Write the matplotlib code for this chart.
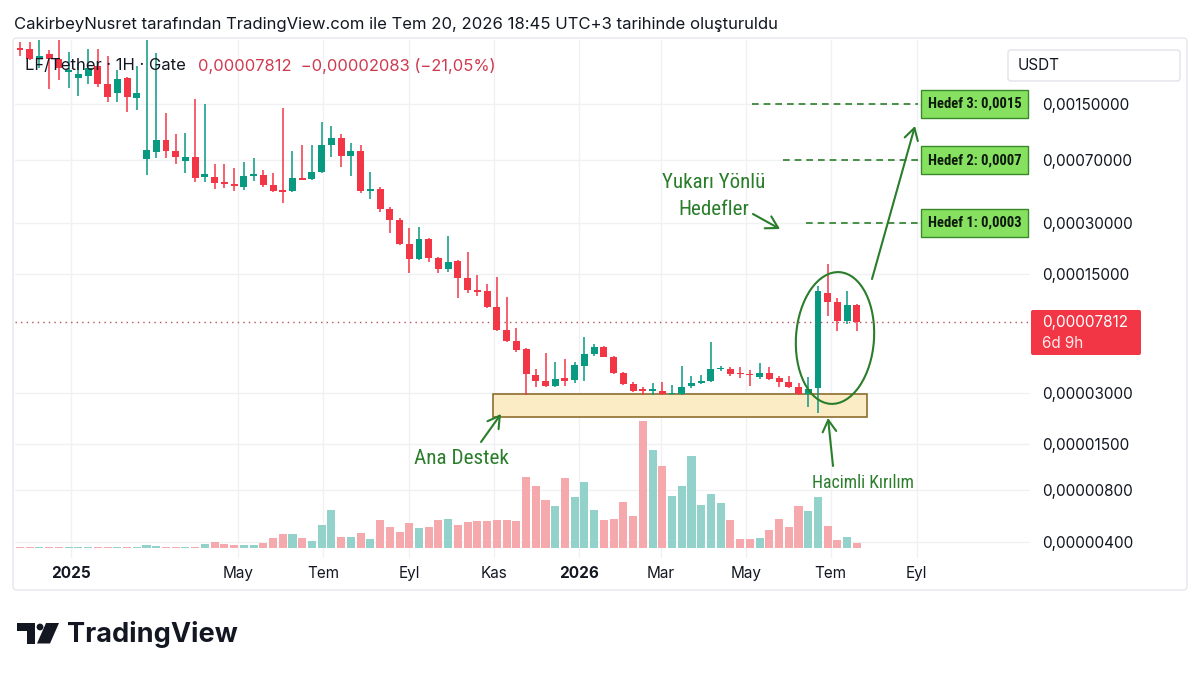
import numpy as np
import pandas as pd
import matplotlib
matplotlib.use("Agg")
import matplotlib.pyplot as plt
import matplotlib.dates as mdates
import matplotlib.transforms as mtransforms
from matplotlib.patches import Rectangle, Ellipse, FancyBboxPatch, Polygon, Circle, FancyArrowPatch
from matplotlib.ticker import NullLocator
from matplotlib import font_manager as fm

# ---------------- data (weekly candles, LF/USDT) ----------------
FIRST_WEEK = "2024-11-25"
opens = [3.19e-3, 3.15e-3, 2.75e-3, 2.95e-3, 2.75e-3, 2.31e-3, 2.13e-3, 2.19e-3, 2.50e-3, 1.96e-3,
         1.74e-3, 2.13e-3, 1.62e-3, 7.11e-4, 7.82e-4, 9.20e-4, 7.93e-4, 6.92e-4, 7.31e-4, 5.58e-4,
         5.58e-4, 5.21e-4, 5.07e-4, 4.87e-4, 5.65e-4, 5.73e-4, 5.00e-4, 4.68e-4, 4.61e-4, 5.50e-4,
         5.43e-4, 5.97e-4, 8.60e-4, 9.45e-4, 7.41e-4, 7.93e-4, 4.61e-4, 4.74e-4, 3.62e-4, 3.12e-4,
         2.25e-4, 1.84e-4, 2.41e-4, 1.86e-4, 1.61e-4, 1.79e-4, 1.42e-4, 1.21e-4, 1.19e-4, 9.60e-5,
         7.03e-5, 6.05e-5, 5.44e-5, 3.83e-5, 3.52e-5, 3.30e-5, 3.67e-5, 3.57e-5, 4.32e-5, 5.08e-5,
         5.59e-5, 4.88e-5, 3.93e-5, 3.39e-5, 3.13e-5, 3.09e-5, 3.09e-5, 2.96e-5, 2.96e-5, 3.30e-5,
         3.44e-5, 3.52e-5, 4.15e-5, 4.15e-5, 3.93e-5, 3.88e-5, 3.72e-5, 3.93e-5, 3.67e-5, 3.48e-5,
         3.26e-5, 2.96e-5, 3.21e-5, 1.16e-4, 1.03e-4, 7.94e-5, 9.895e-5]
highs = [3.46e-3, 3.46e-3, 3.56e-3, 3.11e-3, 3.56e-3, 3.03e-3, 2.61e-3, 3.15e-3, 3.15e-3, 2.87e-3,
         2.37e-3, 2.16e-3, 2.50e-3, 3.56e-3, 2.99e-3, 1.33e-3, 9.98e-4, 1.01e-3, 1.60e-3, 1.50e-3,
         6.65e-4, 6.65e-4, 6.30e-4, 6.83e-4, 7.21e-4, 6.13e-4, 5.89e-4, 1.42e-3, 7.93e-4, 8.60e-4,
         8.60e-4, 1.17e-3, 1.11e-3, 9.98e-4, 8.83e-4, 8.60e-4, 5.97e-4, 4.87e-4, 3.71e-4, 3.20e-4,
         2.80e-4, 2.83e-4, 2.44e-4, 1.89e-4, 2.51e-4, 1.81e-4, 2.02e-4, 1.48e-4, 1.31e-4, 1.44e-4,
         1.10e-4, 7.23e-5, 5.50e-5, 4.15e-5, 5.15e-5, 4.56e-5, 4.75e-5, 4.56e-5, 6.39e-5, 5.82e-5,
         5.66e-5, 4.94e-5, 3.99e-5, 3.48e-5, 3.26e-5, 3.44e-5, 3.48e-5, 3.34e-5, 4.32e-5, 3.78e-5,
         3.83e-5, 5.98e-5, 4.32e-5, 4.26e-5, 4.26e-5, 4.09e-5, 4.50e-5, 4.26e-5, 3.78e-5, 3.78e-5,
         3.44e-5, 3.72e-5, 1.27e-4, 1.72e-4, 1.08e-4, 1.19e-4, 9.95e-5]
lows = [2.87e-3, 2.72e-3, 2.44e-3, 1.83e-3, 2.07e-3, 1.86e-3, 1.67e-3, 1.96e-3, 1.88e-3, 1.54e-3,
        1.54e-3, 1.34e-3, 1.38e-3, 5.73e-4, 7.21e-4, 7.21e-4, 6.65e-4, 5.89e-4, 5.21e-4, 5.21e-4,
        4.74e-4, 4.80e-4, 4.61e-4, 4.68e-4, 5.28e-4, 4.87e-4, 4.55e-4, 3.92e-4, 4.55e-4, 5.35e-4,
        5.35e-4, 5.89e-4, 7.31e-4, 6.38e-4, 5.65e-4, 4.49e-4, 4.14e-4, 3.47e-4, 2.61e-4, 2.22e-4,
        1.52e-4, 1.81e-4, 1.77e-4, 1.52e-4, 1.54e-4, 1.08e-4, 1.16e-4, 1.11e-4, 9.47e-5, 6.94e-5,
        5.98e-5, 5.22e-5, 2.92e-5, 3.26e-5, 3.26e-5, 3.26e-5, 3.30e-5, 3.44e-5, 3.52e-5, 4.94e-5,
        4.85e-5, 3.88e-5, 3.34e-5, 3.04e-5, 2.92e-5, 2.92e-5, 2.92e-5, 2.92e-5, 2.92e-5, 3.21e-5,
        3.39e-5, 3.48e-5, 4.04e-5, 3.78e-5, 3.67e-5, 3.30e-5, 3.62e-5, 3.57e-5, 3.26e-5, 3.21e-5,
        2.92e-5, 2.48e-5, 2.29e-5, 8.50e-5, 6.94e-5, 7.62e-5, 6.94e-5]
closes = [3.11e-3, 2.75e-3, 2.87e-3, 2.75e-3, 2.44e-3, 2.37e-3, 2.25e-3, 2.44e-3, 1.96e-3, 1.65e-3,
          2.10e-3, 1.65e-3, 1.74e-3, 8.03e-4, 9.20e-4, 7.93e-4, 7.31e-4, 7.31e-4, 5.50e-4, 5.81e-4,
          5.14e-4, 5.07e-4, 4.94e-4, 5.65e-4, 5.81e-4, 5.00e-4, 4.61e-4, 4.58e-4, 5.50e-4, 5.39e-4,
          5.97e-4, 8.60e-4, 9.45e-4, 7.41e-4, 7.93e-4, 4.61e-4, 4.74e-4, 3.62e-4, 3.12e-4, 2.25e-4,
          1.84e-4, 2.41e-4, 1.86e-4, 1.61e-4, 1.77e-4, 1.42e-4, 1.21e-4, 1.18e-4, 9.60e-5, 7.03e-5,
          6.05e-5, 5.37e-5, 3.88e-5, 3.52e-5, 3.30e-5, 3.62e-5, 3.52e-5, 4.38e-5, 5.08e-5, 5.59e-5,
          4.88e-5, 3.93e-5, 3.39e-5, 3.09e-5, 3.09e-5, 3.13e-5, 2.96e-5, 3.00e-5, 3.26e-5, 3.44e-5,
          3.52e-5, 4.15e-5, 4.21e-5, 3.88e-5, 3.86e-5, 3.80e-5, 3.93e-5, 3.62e-5, 3.48e-5, 3.26e-5,
          2.96e-5, 3.17e-5, 1.19e-4, 1.03e-4, 7.94e-5, 9.895e-5, 7.812e-5]
volumes = [0.8, 0.8, 0.8, 1.3, 0.8, 0.8, 0.8, 0.8, 0.8, 0.8,
           0.8, 0.8, 0.8, 3.5, 2.5, 1, 1, 1, 1, 4,
           6, 4, 3, 3, 3, 5, 10, 14, 14, 10,
           7, 23, 38, 11, 11, 15, 9, 28, 21, 16,
           25, 20, 21, 28, 29, 23, 26, 27, 27, 28,
           28, 27, 71, 62, 48, 42, 70, 51, 66, 38,
           28, 29, 46, 32, 127, 98, 82, 52, 62, 92,
           43, 54, 45, 28, 9, 9, 10, 18, 29, 21,
           42, 37, 51, 22, 8, 11, 5]

LAST_PRICE = 7.812e-5
price_ticks = [0.0015, 0.0007, 0.0003, 0.00015, 0.00003, 0.000015, 0.000008, 0.000004]
price_tick_labels = ["0,00150000", "0,00070000", "0,00030000", "0,00015000",
                     "0,00003000", "0,00001500", "0,00000800", "0,00000400"]
time_ticks = ["2025-01-01", "2025-05-01", "2025-07-01", "2025-09-01", "2025-11-01",
              "2026-01-01", "2026-03-01", "2026-05-01", "2026-07-01", "2026-09-01"]
time_tick_labels = ["2025", "May", "Tem", "Eyl", "Kas", "2026", "Mar", "May", "Tem", "Eyl"]
targets = [0.0003, 0.0007, 0.0015]
target_labels = ["Hedef 1: 0,0003", "Hedef 2: 0,0007", "Hedef 3: 0,0015"]
SUPPORT_LOW, SUPPORT_HIGH = 2.16e-5, 2.95e-5
SUPPORT_START, SUPPORT_END = "2025-10-31", "2026-07-27"

# ---------------- style ----------------
UP, DOWN = "#089981", "#F23645"
VOL_UP, VOL_DOWN = "#92d2ca", "#f5a9ad"
TXT = "#131722"
GREEN = "#2a7d2a"
plt.rcParams['font.family'] = ['Inter', 'DejaVu Sans']
names = {f.name for f in fm.fontManager.ttflist}
HAND = next((n for n in ['Liberation Sans Narrow', 'Roboto Condensed', 'Open Sans Condensed', 'Roboto']
             if n in names), 'DejaVu Sans')
HANDF = [HAND, 'DejaVu Sans']

W, H, DPI = 1199, 675, 100
fig = plt.figure(figsize=(W / DPI, H / DPI), dpi=DPI)
fig.patch.set_facecolor("white")
PX = mtransforms.Affine2D().scale(1 / DPI, -1 / DPI).translate(0, H / DPI) + fig.dpi_scale_trans


def fxy(x, y):
    return x / W, 1 - y / H


L, R, T, B = 15, 1030, 40, 558
rect = [L / W, 1 - B / H, (R - L) / W, (B - T) / H]
ax = fig.add_axes(rect)
axv = fig.add_axes(rect)

o = np.array(opens); h = np.array(highs); lo = np.array(lows); c = np.array(closes)
vol = np.array(volumes)
dates = pd.date_range(FIRST_WEEK, periods=len(opens), freq="7D")
x = mdates.date2num(dates)
up = c >= o
cols = np.where(up, UP, DOWN)

x0 = x[0]
xlim = (x0 - 3.6, x0 + 726.5)

# price pane
ax.set_yscale("log")
ax.set_ylim(3.2e-6, 3.57e-3)
ax.set_xlim(*xlim)
ax.vlines(x, lo, h, colors=cols, lw=1.1, zorder=3)
blo = np.minimum(o, c); bhi = np.maximum(o, c)
minr = 1.02
small = bhi / blo < minr
mid = np.sqrt(blo * bhi)
blo = np.where(small, mid / np.sqrt(minr), blo)
bhi = np.where(small, mid * np.sqrt(minr), bhi)
ax.bar(x, bhi - blo, bottom=blo, width=5.0, color=cols, zorder=4, linewidth=0)

ax.set_yticks(price_ticks)
ax.set_yticklabels(price_tick_labels)
ax.yaxis.set_minor_locator(NullLocator())
ax.yaxis.tick_right()
ax.tick_params(axis="y", length=0, pad=8.6, labelsize=11, labelcolor=TXT)
ax.set_xticks(mdates.date2num(pd.to_datetime(time_ticks)))
ax.set_xticklabels(time_tick_labels)
for lab in ax.get_xticklabels():
    if lab.get_text().isdigit():
        lab.set_fontweight("bold")
ax.xaxis.set_minor_locator(NullLocator())
ax.tick_params(axis="x", length=0, pad=6, labelsize=11, labelcolor=TXT)
ax.grid(True, color="#f0f1f4", lw=1, zorder=0)
for s in ax.spines.values():
    s.set_visible(False)

ax.axhline(LAST_PRICE, color="#b8505a", lw=1, ls=(0, (1, 3)), zorder=2)

# support zone
sx0 = mdates.date2num(pd.Timestamp(SUPPORT_START)); sx1 = mdates.date2num(pd.Timestamp(SUPPORT_END))
ax.add_patch(Rectangle((sx0, SUPPORT_LOW), sx1 - sx0, SUPPORT_HIGH - SUPPORT_LOW,
                       fc="#fcecc6", ec="#8d6e2e", lw=1.2, zorder=2))

renderer = fig.canvas.get_renderer()


def fit(t, target_w):
    bb = t.get_window_extent(renderer)
    t.set_fontsize(t.get_fontsize() * target_w / bb.width)
    return t


# target lines and boxes
bt = mtransforms.blended_transform_factory(PX, ax.transData)
line_starts = [806, 783, 752]
for lvl, lab, xs in zip(targets, target_labels, line_starts):
    ax.plot([xs, 918], [lvl, lvl], transform=bt, color=GREEN, lw=1.2, ls=(0, (4, 3)), zorder=5, clip_on=False)
    t = ax.text(974.5, lvl, lab, transform=bt, ha="center", va="center", fontsize=10, fontweight="bold",
                family=HANDF, color="#0d1a0d", zorder=6)
    fit(t, 94)
    fs_px = t.get_fontsize() * DPI / 72
    t.set_bbox(dict(boxstyle="square,pad=%.3f" % (7.0 / fs_px), fc="#86e160", ec="#3a8a2a", lw=1))

# volume pane
axv.set_xlim(*xlim)
axv.set_ylim(-10, 508)
axv.bar(x, vol, width=5.8, color=np.where(up, VOL_UP, VOL_DOWN), linewidth=0)
axv.axis("off")

# ---------------- annotations (pixel placed) ----------------
fig.add_artist(Ellipse((835, 338), 78, 132, angle=4, transform=PX, fill=False, ec=GREEN, lw=1.5))


def arrow(p0, p1):
    fig.add_artist(FancyArrowPatch(p0, p1, transform=PX, arrowstyle="->,head_length=6,head_width=3.5",
                                   color=GREEN, lw=1.5, shrinkA=0, shrinkB=0, mutation_scale=1.4))


arrow((481, 442), (501, 414))
arrow((833, 466), (828, 418))
arrow((753, 214), (780, 229))
arrow((872, 279), (915, 126))

fit(fig.text(*fxy(461, 458), "Ana Destek", ha="center", va="center", fontsize=14, color=GREEN, family=HANDF), 96)
fit(fig.text(*fxy(863, 483), "Hacimli Kırılım", ha="center", va="center", fontsize=12.5, color=GREEN, family=HANDF), 103)
t1 = fit(fig.text(*fxy(714, 182), "Yukarı Yönlü", ha="center", va="center", fontsize=14.5, color=GREEN, family=HANDF), 103)
fig.text(*fxy(714, 209), "Hedefler", ha="center", va="center", fontsize=t1.get_fontsize(), color=GREEN, family=HANDF)

# pane border
fig.add_artist(FancyBboxPatch((13, 38), 1174, 552, boxstyle="round,pad=0,rounding_size=4", transform=PX,
                              fill=False, ec="#e6e8ee", lw=1))

# header and legend
fit(fig.text(*fxy(14, 25), "CakirbeyNusret tarafından TradingView.com ile Tem 20, 2026 18:45 UTC+3 tarihinde oluşturuldu",
             ha="left", va="center", fontsize=11.5, color=TXT), 766)
fit(fig.text(*fxy(25, 66), "LF/Tether · 1H · Gate", ha="left", va="center", fontsize=11.5, color=TXT), 161)
fit(fig.text(*fxy(198, 66), "0,00007812  −0,00002083 (−21,05%)", ha="left", va="center", fontsize=11.5,
             color="#cf3a50"), 298)

# USDT box
fig.add_artist(FancyBboxPatch((1008, 50), 172, 31, boxstyle="round,pad=0,rounding_size=3", transform=PX,
                              fc="white", ec="#e0e3eb", lw=1))
fig.text(*fxy(1018, 65.5), "USDT", ha="left", va="center", fontsize=11, color=TXT)

# last price label
fig.add_artist(FancyBboxPatch((1031, 310), 110, 45, boxstyle="round,pad=0,rounding_size=2", transform=PX,
                              fc="#F23645", ec="none"))
fig.text(*fxy(1042, 322), "0,00007812", ha="left", va="center", fontsize=11, color="white")
fig.text(*fxy(1042, 343), "6d 9h", ha="left", va="center", fontsize=11, color="white", alpha=0.9)

# TradingView logo
fig.add_artist(Rectangle((17, 623), 18, 7.5, transform=PX, fc="#131722", ec="none"))
fig.add_artist(Rectangle((26.5, 623), 8.5, 20.5, transform=PX, fc="#131722", ec="none"))
fig.add_artist(Circle((40, 627), 3.4, transform=PX, fc="#131722", ec="none"))
fig.add_artist(Polygon([(46, 623), (59, 623), (50, 643.5), (37, 643.5)], closed=True, transform=PX,
                       fc="#131722", ec="none"))
fig.text(*fxy(67, 634), "TradingView", ha="left", va="center", fontsize=19.5, fontweight="bold", color="#131722")

fig.savefig("out.png", dpi=DPI, facecolor="white")
